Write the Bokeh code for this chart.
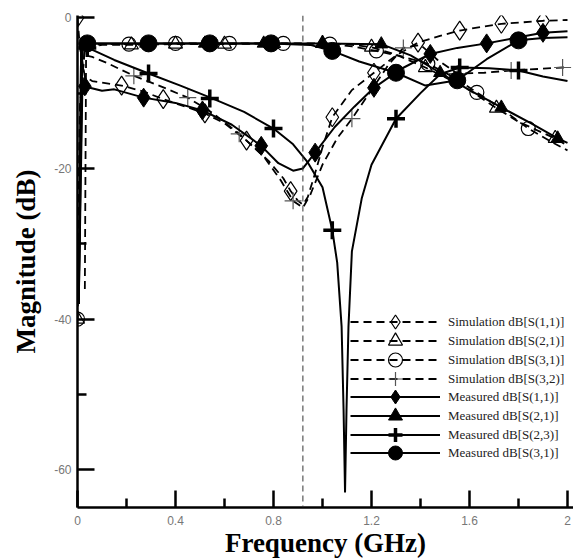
import numpy as np
from bokeh.plotting import figure
from bokeh.models import Range1d, FixedTicker, Span, Legend, LegendItem
from bokeh.embed import file_html
from bokeh.resources import INLINE

# ---------------- data ----------------
x_ticks = [0, 0.4, 0.8, 1.2, 1.6, 2.0]
x_tick_labels = ["0", "0.4", "0.8", "1.2", "1.6", "2"]
x_minor = [0.2, 0.6, 1.0, 1.4, 1.8]
y_ticks = [-60, -40, -20, 0]
y_tick_labels = ["-60", "-40", "-20", "0"]
y_minor = [-50, -30, -10]
center_freq = 0.92

sim_s11_f = [0, 0.01, 0.03, 0.06, 0.10, 0.18, 0.27, 0.35, 0.45, 0.52, 0.60, 0.69, 0.78, 0.84, 0.87, 0.90, 0.92, 0.94, 0.97, 1.00, 1.04, 1.12, 1.21, 1.30, 1.39, 1.48, 1.56, 1.65, 1.73, 1.82, 1.90, 2.00]
sim_s11_db = [0, -4.0, -7.8, -8.4, -8.6, -9.0, -9.8, -10.8, -11.9, -12.7, -14.0, -16.3, -19.0, -21.3, -23.0, -24.3, -24.8, -23.8, -20.6, -17.2, -13.2, -9.6, -7.3, -5.0, -3.3, -2.4, -1.7, -1.2, -0.8, -0.6, -0.4, -0.3]
sim_s11_mk_f = [0, 0.18, 0.35, 0.52, 0.69, 0.87, 1.04, 1.21, 1.39, 1.56, 1.73, 1.90]
sim_s11_mk_db = [0, -9.0, -10.8, -12.7, -16.3, -23.0, -13.2, -7.3, -3.3, -1.7, -0.8, -0.4]

sim_s21_f = [0, 0.01, 0.03, 0.10, 0.22, 0.40, 0.60, 0.80, 1.00, 1.10, 1.20, 1.30, 1.42, 1.50, 1.60, 1.71, 1.80, 1.90, 1.95, 2.00]
sim_s21_db = [-40, -12, -4.0, -3.6, -3.6, -3.5, -3.5, -3.4, -3.4, -3.5, -3.9, -4.9, -6.6, -7.9, -9.6, -12.0, -13.8, -15.3, -16.0, -17.0]
sim_s21_mk_f = [0, 0.22, 0.40, 0.60, 0.80, 1.00, 1.20, 1.42, 1.71, 1.95]
sim_s21_mk_db = [-40, -3.6, -3.5, -3.5, -3.4, -3.4, -3.9, -6.6, -12.0, -16.0]

sim_s31_f = [0, 0.01, 0.03, 0.10, 0.21, 0.40, 0.62, 0.84, 1.03, 1.12, 1.22, 1.32, 1.43, 1.53, 1.63, 1.74, 1.84, 1.93, 2.00]
sim_s31_db = [-40, -12, -3.8, -3.5, -3.5, -3.4, -3.4, -3.4, -3.5, -3.8, -4.4, -5.1, -6.1, -7.8, -9.9, -12.3, -14.7, -16.4, -17.6]
sim_s31_mk_f = [0, 0.21, 0.40, 0.62, 0.84, 1.03, 1.22, 1.43, 1.63, 1.84]
sim_s31_mk_db = [-40, -3.5, -3.4, -3.4, -3.4, -3.5, -4.4, -6.1, -9.9, -14.7]

sim_s32_f = [0.03, 0.035, 0.06, 0.12, 0.23, 0.34, 0.45, 0.55, 0.66, 0.76, 0.83, 0.88, 0.92, 0.95, 1.00, 1.06, 1.12, 1.20, 1.27, 1.33, 1.40, 1.47, 1.55, 1.66, 1.77, 1.88, 1.98, 2.00]
sim_s32_db = [-36, -5.0, -5.2, -6.0, -7.7, -9.1, -10.6, -12.6, -15.4, -18.4, -21.6, -24.3, -25.2, -23.5, -19.5, -16.0, -13.4, -9.6, -6.2, -4.0, -3.6, -5.6, -7.4, -7.3, -7.0, -6.8, -6.6, -6.6]
sim_s32_mk_f = [0.23, 0.45, 0.66, 0.88, 1.12, 1.33, 1.55, 1.77, 1.98]
sim_s32_mk_db = [-7.7, -10.6, -15.4, -24.3, -13.4, -4.0, -7.4, -7.0, -6.6]

meas_s11_f = [0.005, 0.02, 0.05, 0.10, 0.15, 0.27, 0.40, 0.51, 0.63, 0.75, 0.82, 0.88, 0.92, 0.97, 1.05, 1.13, 1.21, 1.32, 1.44, 1.55, 1.67, 1.80, 1.90, 2.00]
meas_s11_db = [-38, -9.0, -9.3, -9.7, -9.5, -10.6, -11.3, -12.3, -14.2, -17.0, -19.3, -20.3, -20.0, -17.9, -14.5, -11.8, -9.3, -6.8, -4.8, -4.0, -3.4, -2.6, -2.0, -1.8]
meas_s11_mk_f = [0.03, 0.27, 0.51, 0.75, 0.97, 1.21, 1.44, 1.67, 1.90]
meas_s11_mk_db = [-9.1, -10.6, -12.3, -17.0, -17.9, -9.3, -4.8, -3.4, -2.0]

meas_s21_f = [0.005, 0.015, 0.04, 0.28, 0.52, 0.76, 1.00, 1.24, 1.36, 1.48, 1.60, 1.73, 1.85, 1.96, 2.00]
meas_s21_db = [-38, -3.5, -3.4, -3.4, -3.4, -3.4, -3.4, -3.5, -5.0, -7.3, -9.6, -11.9, -14.0, -16.0, -16.6]
meas_s21_mk_f = [0.04, 0.28, 0.52, 0.76, 1.00, 1.24, 1.48, 1.73, 1.96]
meas_s21_mk_db = [-3.4, -3.4, -3.4, -3.4, -3.4, -3.5, -7.3, -11.9, -16.0]

meas_s23_f = [0.005, 0.02, 0.04, 0.07, 0.15, 0.29, 0.42, 0.55, 0.68, 0.80, 0.88, 0.94, 1.00, 1.04, 1.06, 1.078, 1.086, 1.092, 1.098, 1.106, 1.12, 1.16, 1.20, 1.30, 1.40, 1.48, 1.56, 1.68, 1.80, 1.90, 2.00]
meas_s23_db = [-38, -3.8, -4.0, -4.4, -5.6, -7.4, -9.0, -10.7, -12.5, -14.7, -16.8, -19.2, -22.5, -28.2, -32.5, -41, -52, -63, -52, -41, -31, -24, -19.5, -13.4, -10.0, -7.5, -6.6, -6.7, -7.0, -7.8, -8.4]
meas_s23_mk_f = [0.04, 0.29, 0.54, 0.80, 1.04, 1.30, 1.56, 1.80]
meas_s23_mk_db = [-4.0, -7.4, -10.7, -14.7, -28.2, -13.4, -6.6, -7.0]

meas_s31_f = [0.005, 0.015, 0.04, 0.29, 0.54, 0.79, 0.95, 1.04, 1.15, 1.30, 1.42, 1.55, 1.67, 1.80, 1.90, 2.00]
meas_s31_db = [-38, -3.4, -3.4, -3.4, -3.4, -3.4, -3.6, -4.4, -5.8, -7.3, -9.0, -8.3, -5.5, -3.0, -2.7, -2.6]
meas_s31_mk_f = [0.04, 0.29, 0.54, 0.79, 1.04, 1.30, 1.55, 1.80]
meas_s31_mk_db = [-3.4, -3.4, -3.4, -3.4, -4.4, -7.3, -8.3, -3.0]

labels = ["Simulation dB[S(1,1)]", "Simulation dB[S(2,1)]", "Simulation dB[S(3,1)]",
          "Simulation dB[S(3,2)]", "Measured dB[S(1,1)]", "Measured dB[S(2,1)]",
          "Measured dB[S(2,3)]", "Measured dB[S(3,1)]"]

# ---------------- figure ----------------
p = figure(width=573, height=560, output_backend="svg", toolbar_location=None,
           x_range=Range1d(0, 2.0245), y_range=Range1d(-65, 0.3),
           min_border_left=77, min_border_right=0, min_border_top=15, min_border_bottom=52)
p.outline_line_color = None
p.grid.visible = False
p.background_fill_color = "white"

p.xaxis.ticker = FixedTicker(ticks=x_ticks, minor_ticks=x_minor)
p.xaxis.major_label_overrides = {t: l for t, l in zip(x_ticks, x_tick_labels)}
p.yaxis.ticker = FixedTicker(ticks=y_ticks, minor_ticks=y_minor)
p.yaxis.major_label_overrides = {t: l for t, l in zip(y_ticks, y_tick_labels)}

for ax in (p.xaxis[0], p.yaxis[0]):
    ax.axis_line_width = 2.5
    ax.axis_line_color = "black"
    ax.major_tick_in = 17
    ax.major_tick_out = 0
    ax.minor_tick_in = 9
    ax.minor_tick_out = 0
    ax.major_tick_line_width = 2.5
    ax.minor_tick_line_width = 2.5
    ax.major_tick_line_color = "black"
    ax.minor_tick_line_color = "black"
    ax.major_label_text_font = "Liberation Sans"
    ax.major_label_text_font_size = "12px"
    ax.major_label_text_color = "#777777"
    ax.axis_label_text_font = "Liberation Serif"
    ax.axis_label_text_font_style = "bold"
    ax.axis_label_text_font_size = "27px"
    ax.axis_label_text_color = "black"

p.xaxis.axis_label = "Frequency (GHz)"
p.yaxis.axis_label = "Magnitude (dB)"
p.xaxis.major_label_standoff = 8
p.yaxis.major_label_standoff = 6
p.xaxis.axis_label_standoff = 0
p.yaxis.axis_label_standoff = 10

p.add_layout(Span(location=center_freq, dimension="height", line_color="#333333",
                  line_width=1, line_dash="6 4"))

DASH = "8 5"

def sim(fx, fy, mx, my, marker, size, lw_m=1.2, color="black"):
    r1 = p.line(fx, fy, line_color="black", line_width=1.8, line_dash=DASH)
    r2 = p.scatter(mx, my, marker=marker, size=size, line_color=color,
                   line_width=lw_m, fill_alpha=0)
    return [r1, r2]

def meas(fx, fy, mx, my, marker, size, lw_m=1.0):
    r1 = p.line(fx, fy, line_color="black", line_width=2)
    r2 = p.scatter(mx, my, marker=marker, size=size, line_color="black",
                   fill_color="black", line_width=lw_m)
    return [r1, r2]

items = []
items.append(sim(sim_s11_f, sim_s11_db, sim_s11_mk_f, sim_s11_mk_db, "diamond", 19))
items.append(sim(sim_s21_f, sim_s21_db, sim_s21_mk_f, sim_s21_mk_db, "triangle", 14))
items.append(sim(sim_s31_f, sim_s31_db, sim_s31_mk_f, sim_s31_mk_db, "circle", 14))
items.append(sim(sim_s32_f, sim_s32_db, sim_s32_mk_f, sim_s32_mk_db, "cross", 17, lw_m=1.2, color="#555555"))
items.append(meas(meas_s11_f, meas_s11_db, meas_s11_mk_f, meas_s11_mk_db, "diamond", 19))
items.append(meas(meas_s21_f, meas_s21_db, meas_s21_mk_f, meas_s21_mk_db, "triangle", 13))
items.append(meas(meas_s23_f, meas_s23_db, meas_s23_mk_f, meas_s23_mk_db, "cross", 18, lw_m=3.5))
items.append(meas(meas_s31_f, meas_s31_db, meas_s31_mk_f, meas_s31_mk_db, "circle", 17))

# one single-row legend per entry so that rows can sit closer than the glyph box
ROW = 18.7
for i, (lab, rends) in enumerate(zip(labels, items)):
    lg = Legend(items=[LegendItem(label=lab, renderers=rends)],
                location=(273, round(167.5 - ROW * i)), orientation="vertical",
                glyph_width=90, glyph_height=35, label_height=35, spacing=0,
                padding=0, margin=0, label_standoff=8,
                label_text_font="Liberation Serif", label_text_font_size="13px",
                label_text_color="#222222",
                border_line_alpha=0, background_fill_alpha=0)
    p.add_layout(lg, "center")

open("out.html", "w").write(file_html(p, INLINE))
